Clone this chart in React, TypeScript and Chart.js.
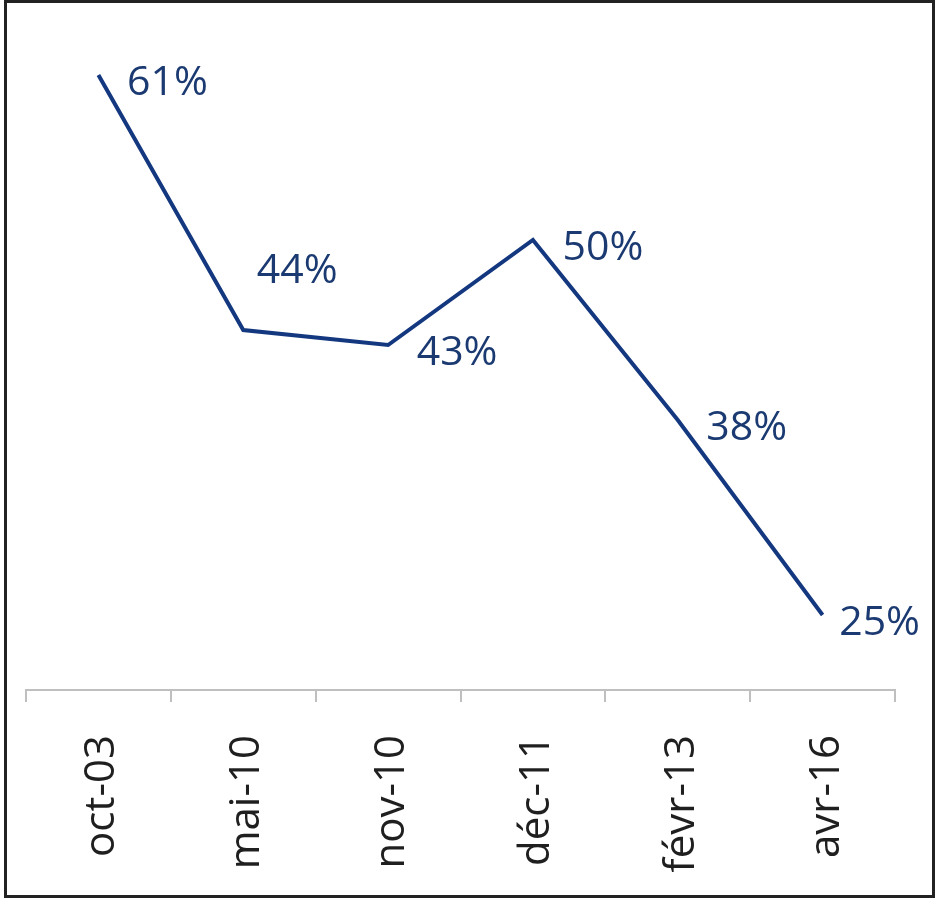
import React, { useEffect, useRef } from 'react';
import { Chart, registerables } from 'chart.js';

Chart.register(...registerables);

const categories = ['oct-03', 'mai-10', 'nov-10', 'déc-11', 'févr-13', 'avr-16'];
const values = [61, 44, 43, 50, 38, 25];
const valueLabels = ['61%', '44%', '43%', '50%', '38%', '25%'];

// label placement (style only): offsets of the label centre from its point
const labelDx = [69, 54, 69, 70, 69, 57];
const labelDy = [8, -59, 8, 8, 8, 8];

const LINE_COLOR = '#14387F';
const LABEL_COLOR = '#1B3A72';

const dataLabelPlugin = {
  id: 'valueLabels',
  afterDatasetsDraw(chart: any) {
    const ctx = chart.ctx;
    const meta = chart.getDatasetMeta(0);
    ctx.save();
    ctx.font = '41px "Open Sans"';
    ctx.fillStyle = LABEL_COLOR;
    ctx.textAlign = 'center';
    ctx.textBaseline = 'middle';
    meta.data.forEach((pt: any, i: number) => {
      ctx.fillText(valueLabels[i], pt.x + labelDx[i], pt.y + labelDy[i]);
    });
    ctx.restore();
  },
};

export default function App() {
  const ref = useRef<HTMLCanvasElement | null>(null);
  useEffect(() => {
    if (!ref.current) return;
    const chart = new Chart(ref.current, {
      type: 'line',
      data: {
        labels: categories,
        datasets: [
          {
            data: values,
            borderColor: LINE_COLOR,
            borderWidth: 4,
            pointRadius: 0,
            tension: 0,
            fill: false,
          },
        ],
      },
      options: {
        responsive: false,
        animation: false,
        layout: { padding: { left: 26, right: 41, top: 15, bottom: 0 } },
        plugins: { legend: { display: false }, tooltip: { enabled: false } },
        scales: {
          x: {
            offset: true,
            grid: {
              display: true,
              drawOnChartArea: false,
              offset: true,
              tickLength: 12,
              color: '#BFBFBF',
              lineWidth: 2,
            },
            border: { display: true, color: '#BFBFBF', width: 2 },
            ticks: {
              minRotation: 90,
              maxRotation: 90,
              padding: 33,
              labelOffset: 4,
              color: '#1F1F1F',
              font: { family: 'Open Sans', size: 42 },
            },
            afterFit: (s: any) => {
              s.height = 208;
            },
          },
          y: {
            display: false,
            min: 20,
            max: 65,
          },
        },
      },
      plugins: [dataLabelPlugin],
    });
    return () => chart.destroy();
  }, []);

  return (
    <div style={{ position: 'fixed', left: 0, top: 0, width: 936, height: 898, background: '#fff' }}>
      <canvas ref={ref} width={936} height={898} style={{ display: 'block' }} />
      <div
        style={{
          position: 'absolute',
          left: 4,
          top: 0,
          width: 931,
          height: 898,
          boxSizing: 'border-box',
          border: '3px solid #222',
          pointerEvents: 'none',
        }}
      />
    </div>
  );
}
